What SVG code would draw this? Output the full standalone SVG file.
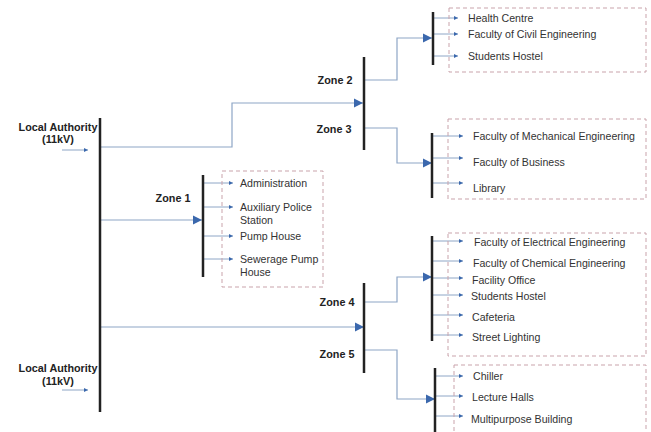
<svg xmlns="http://www.w3.org/2000/svg" width="651" height="432" viewBox="0 0 651 432">
<style>
.bus{stroke:#222;stroke-width:2.5;fill:none}
.wire{stroke:#8ea6c6;stroke-width:1.2;fill:none}
.br{stroke:#8ea6c6;stroke-width:1;fill:none}
.box{stroke:#c9a3ab;stroke-width:1;stroke-dasharray:4,3;fill:none}
.lbl{font-family:"Liberation Sans",Arial,sans-serif;font-size:10.8px;font-weight:bold;fill:#222}
.it{font-family:"Liberation Sans",Arial,sans-serif;font-size:10.6px;fill:#333}
</style>
<defs>
<marker id="big" viewBox="0 0 10 10" refX="10" refY="5" markerUnits="userSpaceOnUse" markerWidth="9" markerHeight="11" orient="auto"><path d="M0,0 L10,5 L0,10 z" fill="#3b68ad"/></marker>
<marker id="sm" viewBox="0 0 10 10" refX="10" refY="5" markerUnits="userSpaceOnUse" markerWidth="4" markerHeight="4" orient="auto"><path d="M0,0 L10,5 L0,10 z" fill="#3b68ad"/></marker>
</defs>
<g id="connectors">
<path class="wire" d="M100,147 H232 V103 H363" marker-end="url(#big)"/>
<path class="wire" d="M100,220 H202" marker-end="url(#big)"/>
<path class="wire" d="M100,327 H364" marker-end="url(#big)"/>
<path class="wire" d="M364,80 H397 V38 H432" marker-end="url(#big)"/>
<path class="wire" d="M364,128 H397 V163 H432" marker-end="url(#big)"/>
<path class="wire" d="M364,302 H397 V277 H432" marker-end="url(#big)"/>
<path class="wire" d="M364,350 H397 V399 H435" marker-end="url(#big)"/>
<path class="br" d="M62,150 H88" marker-end="url(#sm)"/>
<path class="br" d="M62,390 H88" marker-end="url(#sm)"/>
<path class="br" d="M203,183 H233" marker-end="url(#sm)"/>
<path class="br" d="M203,207 H233" marker-end="url(#sm)"/>
<path class="br" d="M203,236 H233" marker-end="url(#sm)"/>
<path class="br" d="M203,259 H233" marker-end="url(#sm)"/>
<path class="br" d="M432,18 H458" marker-end="url(#sm)"/>
<path class="br" d="M432,34 H458" marker-end="url(#sm)"/>
<path class="br" d="M432,56 H458" marker-end="url(#sm)"/>
<path class="br" d="M432,136 H463" marker-end="url(#sm)"/>
<path class="br" d="M432,158 H463" marker-end="url(#sm)"/>
<path class="br" d="M432,183 H463" marker-end="url(#sm)"/>
<path class="br" d="M432,241 H463" marker-end="url(#sm)"/>
<path class="br" d="M432,261 H463" marker-end="url(#sm)"/>
<path class="br" d="M432,278 H463" marker-end="url(#sm)"/>
<path class="br" d="M432,295 H463" marker-end="url(#sm)"/>
<path class="br" d="M432,315 H463" marker-end="url(#sm)"/>
<path class="br" d="M432,335 H463" marker-end="url(#sm)"/>
<path class="br" d="M435,376 H463" marker-end="url(#sm)"/>
<path class="br" d="M435,396 H463" marker-end="url(#sm)"/>
<path class="br" d="M435,416 H463" marker-end="url(#sm)"/>
</g>
<g id="source">
<line class="bus" x1="100" y1="118" x2="100" y2="412"/>
<text class="lbl" x="58" y="131" text-anchor="middle">Local Authority</text>
<text class="lbl" x="58" y="143" text-anchor="middle">(11kV)</text>
<text class="lbl" x="58" y="372" text-anchor="middle">Local Authority</text>
<text class="lbl" x="58" y="385" text-anchor="middle">(11kV)</text>
</g>
<g id="zone1">
<line class="bus" x1="203" y1="175" x2="203" y2="277"/>
<text class="lbl" x="173" y="202" text-anchor="middle">Zone 1</text>
<rect class="box" x="222" y="171" width="101" height="116"/>
<text class="it" x="240" y="187">Administration</text>
<text class="it" x="240" y="211">Auxiliary Police</text>
<text class="it" x="240" y="224">Station</text>
<text class="it" x="240" y="240">Pump House</text>
<text class="it" x="240" y="263">Sewerage Pump</text>
<text class="it" x="240" y="276">House</text>
</g>
<g id="zone23">
<line class="bus" x1="364" y1="57" x2="364" y2="150"/>
<text class="lbl" x="335" y="84" text-anchor="middle">Zone 2</text>
<text class="lbl" x="334" y="133" text-anchor="middle">Zone 3</text>
</g>
<g id="zone2">
<line class="bus" x1="433" y1="12" x2="433" y2="65"/>
<rect class="box" x="449" y="8" width="197" height="64"/>
<text class="it" x="468" y="21.5">Health Centre</text>
<text class="it" x="468" y="38">Faculty of Civil Engineering</text>
<text class="it" x="468" y="59.5">Students Hostel</text>
</g>
<g id="zone3">
<line class="bus" x1="432" y1="133" x2="432" y2="198"/>
<rect class="box" x="448" y="119" width="198" height="80"/>
<text class="it" x="473" y="139.5">Faculty of Mechanical Engineering</text>
<text class="it" x="473" y="166">Faculty of Business</text>
<text class="it" x="473" y="192">Library</text>
</g>
<g id="zone45">
<line class="bus" x1="364" y1="283" x2="364" y2="373"/>
<text class="lbl" x="337" y="306" text-anchor="middle">Zone 4</text>
<text class="lbl" x="337" y="358" text-anchor="middle">Zone 5</text>
</g>
<g id="zone4">
<line class="bus" x1="432" y1="236" x2="432" y2="341"/>
<rect class="box" x="448" y="233" width="198" height="123"/>
<text class="it" x="474" y="245.5">Faculty of Electrical Engineering</text>
<text class="it" x="473" y="266.5">Faculty of Chemical Engineering</text>
<text class="it" x="472" y="283.5">Facility Office</text>
<text class="it" x="471" y="299.5">Students Hostel</text>
<text class="it" x="472" y="320.5">Cafeteria</text>
<text class="it" x="472" y="340.5">Street Lighting</text>
</g>
<g id="zone5">
<line class="bus" x1="435" y1="368" x2="435" y2="432"/>
<rect class="box" x="454" y="365" width="192" height="72"/>
<text class="it" x="473" y="379.5">Chiller</text>
<text class="it" x="472" y="400.5">Lecture Halls</text>
<text class="it" x="471" y="423">Multipurpose Building</text>
</g>
</svg>
